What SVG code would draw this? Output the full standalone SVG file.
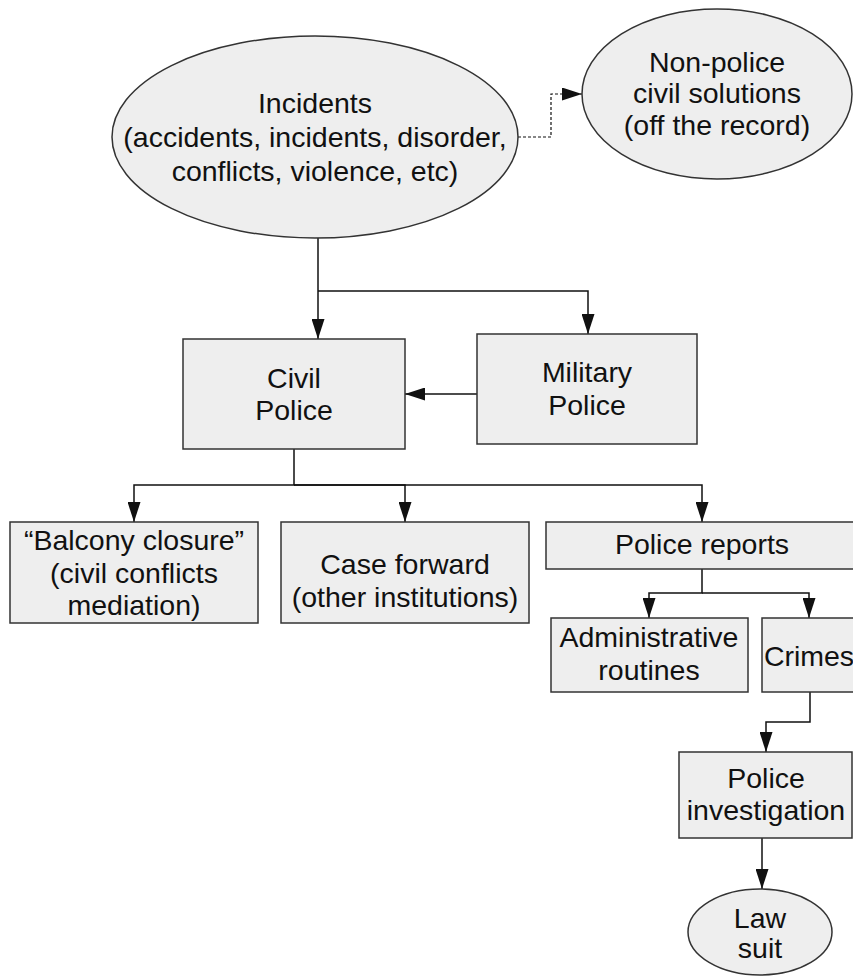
<svg xmlns="http://www.w3.org/2000/svg" width="853" height="978" viewBox="0 0 853 978">
  <defs>
    <style>
      .shape { fill: #eeeeee; stroke: #333333; stroke-width: 1.5; }
      .label { font-family: "Liberation Sans", Arial, sans-serif; font-size: 28.5px; fill: #111111; text-anchor: middle; }
      .link { fill: none; stroke: #111111; stroke-width: 1.5; }
      .dashed { fill: none; stroke: #111111; stroke-width: 1.2; stroke-dasharray: 3 2; }
    </style>
    <marker id="arrow" markerUnits="userSpaceOnUse" markerWidth="20" markerHeight="13" refX="20" refY="6.5" orient="auto">
      <path d="M0,0 L20,6.5 L0,13 z" fill="#111111"/>
    </marker>
  </defs>

  <rect width="853" height="978" fill="#ffffff"/>

  <!-- connectors -->
  <g id="connectors">
    <path class="dashed" d="M518,137 H551 V94 H582" marker-end="url(#arrow)"/>
    <path class="link" d="M318,238 V339" marker-end="url(#arrow)"/>
    <path class="link" d="M318,291 H588 V334" marker-end="url(#arrow)"/>
    <path class="link" d="M477,394 H405" marker-end="url(#arrow)"/>
    <path class="link" d="M294,449 V485 H134 V522" marker-end="url(#arrow)"/>
    <path class="link" d="M294,485 H405 V522" marker-end="url(#arrow)"/>
    <path class="link" d="M294,485 H702 V522" marker-end="url(#arrow)"/>
    <path class="link" d="M702,569 V593 H649 V618" marker-end="url(#arrow)"/>
    <path class="link" d="M702,593 H809 V618" marker-end="url(#arrow)"/>
    <path class="link" d="M810,692 V722 H766 V752" marker-end="url(#arrow)"/>
    <path class="link" d="M762,838 V889" marker-end="url(#arrow)"/>
  </g>

  <g id="incidents">
    <ellipse class="shape" cx="315" cy="137" rx="203" ry="101"/>
    <text class="label" x="315" y="113">Incidents</text>
    <text class="label" x="315" y="147">(accidents, incidents, disorder,</text>
    <text class="label" x="315" y="181">conflicts, violence, etc)</text>
  </g>

  <g id="non-police">
    <ellipse class="shape" cx="717" cy="94" rx="135" ry="85"/>
    <text class="label" x="717" y="72">Non-police</text>
    <text class="label" x="717" y="103">civil solutions</text>
    <text class="label" x="717" y="135">(off the record)</text>
  </g>

  <g id="civil-police">
    <rect class="shape" x="183" y="339" width="222" height="110"/>
    <text class="label" x="294" y="388">Civil</text>
    <text class="label" x="294" y="420">Police</text>
  </g>

  <g id="military-police">
    <rect class="shape" x="477" y="334" width="220" height="110"/>
    <text class="label" x="587" y="382">Military</text>
    <text class="label" x="587" y="415">Police</text>
  </g>

  <g id="balcony-closure">
    <rect class="shape" x="10" y="522" width="248" height="101"/>
    <text class="label" x="134" y="550">“Balcony closure”</text>
    <text class="label" x="134" y="583">(civil conflicts</text>
    <text class="label" x="134" y="615">mediation)</text>
  </g>

  <g id="case-forward">
    <rect class="shape" x="281" y="522" width="248" height="101"/>
    <text class="label" x="405" y="574">Case forward</text>
    <text class="label" x="405" y="607">(other institutions)</text>
  </g>

  <g id="police-reports">
    <rect class="shape" x="546" y="522" width="311" height="47"/>
    <text class="label" x="702" y="554">Police reports</text>
  </g>

  <g id="administrative-routines">
    <rect class="shape" x="551" y="618" width="197" height="74"/>
    <text class="label" x="649" y="647">Administrative</text>
    <text class="label" x="649" y="680">routines</text>
  </g>

  <g id="crimes">
    <rect class="shape" x="762" y="618" width="94" height="74"/>
    <text class="label" x="809" y="666">Crimes</text>
  </g>

  <g id="police-investigation">
    <rect class="shape" x="679" y="752" width="173" height="86"/>
    <text class="label" x="766" y="788">Police</text>
    <text class="label" x="766" y="820">investigation</text>
  </g>

  <g id="law-suit">
    <ellipse class="shape" cx="760" cy="932" rx="72" ry="43"/>
    <text class="label" x="760" y="928">Law</text>
    <text class="label" x="760" y="958">suit</text>
  </g>
</svg>
